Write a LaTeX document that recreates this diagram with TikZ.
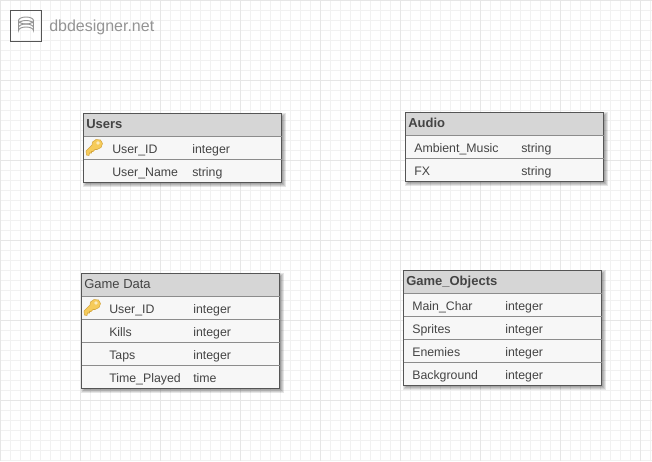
\documentclass[tikz,border=0pt]{standalone}
\usepackage{fontspec}
\setmainfont{Liberation Sans}
\definecolor{minorgrid}{HTML}{F1F1F1}
\definecolor{majorgrid}{HTML}{E6E6E6}
\definecolor{headfill}{HTML}{D6D6D6}
\definecolor{rowfill}{HTML}{F7F7F7}
\definecolor{rowline}{HTML}{8C8C8C}
\definecolor{boxline}{HTML}{555555}
\definecolor{inktext}{HTML}{444444}
\definecolor{logotext}{HTML}{949494}
\definecolor{keyfill}{HTML}{F6CB5A}
\definecolor{keyline}{HTML}{D3A53E}
\tikzset{
    celltext/.style={anchor=base west,inner sep=0pt,text=inktext,font=\fontsize{9.25pt}{11pt}\selectfont},
    headtext/.style={anchor=base west,inner sep=0pt,text=inktext,font=\fontsize{9.75pt}{11pt}\selectfont\bfseries},
}
\begin{document}
\begin{tikzpicture}[x=0.75pt,y=-0.75pt]
            % table box: x1, x2, y top, y head, y bottom
            \newcommand{\tbl}[5]{
                \foreach \d in {4,3,2,1}{
                    \fill[black,opacity=0.1] (#1+3-\d,#3+3-\d) rectangle (#2+\d,#5+\d);
                }
                \fill[rowfill] (#1,#3) rectangle (#2,#5);
                \fill[headfill] (#1,#3) rectangle (#2,#4);
                \draw[boxline] (#1,#5) -- (#1,#3) -- (#2,#3) -- (#2,#5) -- cycle;
                \draw[rowline] (#1,#4) -- (#2,#4);
            }
            % row: name, y base, x of field, x of type, field, type
            \newcommand{\rw}[6]{
                \node[celltext] (#1f) at (#3,#2) {#5};
                \node[celltext] (#1t) at (#4,#2) {#6};
            }
            % key icon at x, y
            \newcommand{\keyicon}[2]{
                \begin{scope}[shift={(#1,#2)}]
                    \filldraw[keyline,fill=keyfill,line join=round] (0,11.5) -- (6,5.5) -- (6.5,2.5) -- (10,0) -- (14.5,0.5) -- (16.5,4) -- (15,8) -- (11,10) -- (9,10) -- (7,12) -- (5.5,12) -- (5.5,13.5) -- (3.5,13.5) -- (3,16) -- (0.5,15.5) -- cycle;
                    \fill[white,opacity=0.6] (12,3.5) circle (1.8);
                \end{scope}
            }

            \fill[white] (0,0) rectangle (652,461);
            \useasboundingbox (0,0) rectangle (652,461);
            \foreach \i in {0,10,...,650}{
                \draw[minorgrid,line width=0.75pt] (\i+0.5,0) -- (\i+0.5,461);
            }
            \foreach \i in {0,10,...,460}{
                \draw[minorgrid,line width=0.75pt] (0,\i+0.5) -- (652,\i+0.5);
            }
            \foreach \i in {0,80,...,640}{
                \draw[majorgrid,line width=0.75pt] (\i+0.5,0) -- (\i+0.5,461);
            }
            \foreach \i in {0,80,...,400}{
                \draw[majorgrid,line width=0.75pt] (0,\i+0.5) -- (652,\i+0.5);
            }

            % logo
            \draw[boxline,line width=1.1pt] (10.5,10.5) rectangle (41.5,41.5);
            \begin{scope}[logotext,line width=0.7pt]
                \draw (18.5,20.5) arc[start angle=180,end angle=-180,x radius=7.5,y radius=3.5];
                \draw (18.5,20.5) -- (18.5,30.5) arc[start angle=180,end angle=360,x radius=7.5,y radius=3.5] -- (33.5,20.5);
                \draw (18.5,24) arc[start angle=180,end angle=360,x radius=7.5,y radius=3.5];
                \draw (18.5,27.5) arc[start angle=180,end angle=360,x radius=7.5,y radius=3.5];
            \end{scope}
            \node[anchor=base west,inner sep=0pt,text=logotext,font=\fontsize{12pt}{14pt}\selectfont] (logo) at (49,31) {dbdesigner.net};

            % Users
            \tbl{83.5}{281.5}{113.5}{136.5}{182.5};
            \draw[rowline] (83.5,159.5) -- (281.5,159.5);
            \node[headtext] (users) at (86,128) {Users};
            \keyicon{86}{139.5};
            \rw{usersA}{153}{112}{192}{User\_ID}{integer};
            \rw{usersB}{176}{112}{192}{User\_Name}{string};

            % Audio
            \tbl{405.5}{603.5}{112.5}{135.5}{181.5};
            \draw[rowline] (405.5,158.5) -- (603.5,158.5);
            \node[headtext] (audio) at (408,127) {Audio};
            \rw{audioA}{152}{414}{521}{Ambient\_Music}{string};
            \rw{audioB}{175}{414}{521}{FX}{string};

            % Game Data
            \tbl{81.5}{279.5}{273.5}{296.5}{388.5};
            \draw[rowline] (81.5,319.5) -- (279.5,319.5);
            \draw[rowline] (81.5,342.5) -- (279.5,342.5);
            \draw[rowline] (81.5,365.5) -- (279.5,365.5);
            \node[headtext,font=\fontsize{9.75pt}{11pt}\selectfont] (gamedata) at (84,288) {Game Data};
            \keyicon{84}{299.5};
            \rw{dataA}{313}{109}{193}{User\_ID}{integer};
            \rw{dataB}{336}{109}{193}{Kills}{integer};
            \rw{dataC}{359}{109}{193}{Taps}{integer};
            \rw{dataD}{382}{109}{193}{Time\_Played}{time};

            % Game_Objects
            \tbl{403.5}{601.5}{270.5}{293.5}{385.5};
            \draw[rowline] (403.5,316.5) -- (601.5,316.5);
            \draw[rowline] (403.5,339.5) -- (601.5,339.5);
            \draw[rowline] (403.5,362.5) -- (601.5,362.5);
            \node[headtext] (objects) at (406,285) {Game\_Objects};
            \rw{objA}{310}{412}{505}{Main\_Char}{integer};
            \rw{objB}{333}{412}{505}{Sprites}{integer};
            \rw{objC}{356}{412}{505}{Enemies}{integer};
            \rw{objD}{379}{412}{505}{Background}{integer};
        \end{tikzpicture}
\end{document}
